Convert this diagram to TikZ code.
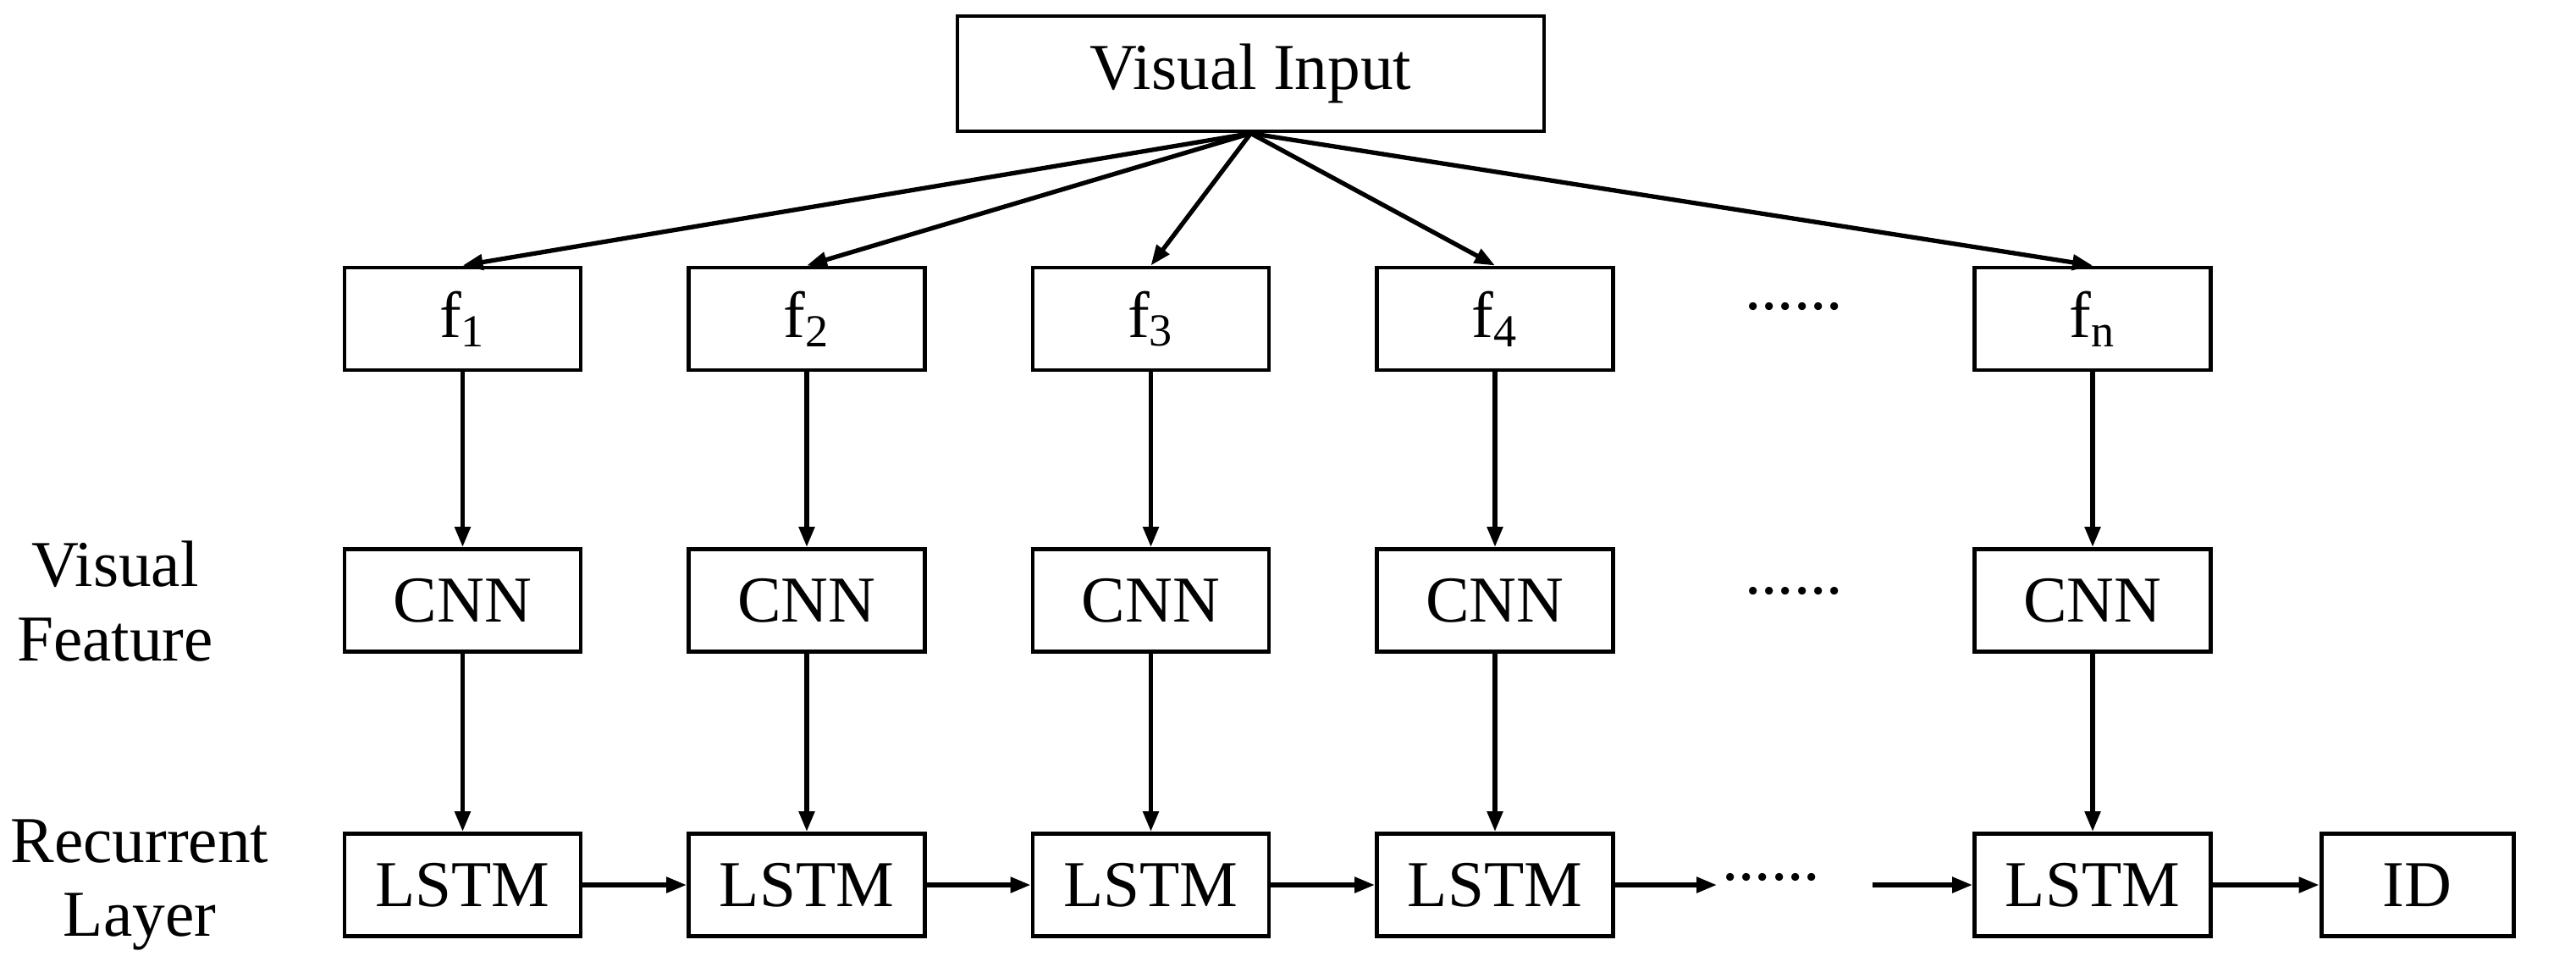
\documentclass[tikz,border=0pt]{standalone}
\usepackage{fontspec}
\setmainfont{Liberation Serif}
\usetikzlibrary{arrows.meta}
\begin{document}
\begin{tikzpicture}[x=1cm,y=-1cm,
  box/.style={draw,line width=1.4pt,minimum width=2.79cm,minimum height=1.21cm,inner sep=0pt,font=\fontsize{22}{26}\selectfont},
  lbl/.style={align=center,font=\fontsize{22}{25}\selectfont},
  arr/.style={line width=1.5pt,-{Triangle[length=0.24cm,width=0.18cm]}},
  dots/.style={font=\fontsize{22}{26}\selectfont}]
\useasboundingbox (0,0) rectangle (30.43,11.48);
\node[box,minimum width=6.93cm,minimum height=1.36cm] (vi) at (14.775,0.87) {Visual Input};
\foreach \i/\x/\t in {1/5.465/1,2/9.53/2,3/13.595/3,4/17.66/4,n/24.72/n}{
  \node[box] (f\i) at (\x,3.765) {f\textsubscript{\t}};
  \node[box] (c\i) at (\x,7.09) {CNN};
  \node[box] (l\i) at (\x,10.45) {LSTM};
  \draw[arr] (vi.south) -- (f\i.north);
  \draw[arr] (f\i) -- (c\i);
  \draw[arr] (c\i) -- (l\i);
}
\node[box,minimum width=2.27cm] (id) at (28.555,10.45) {ID};
\node[dots] (d1) at (21.19,3.62) {......};
\node[dots] (d2) at (21.19,6.98) {......};
\node[dots] (d3) at (20.92,10.36) {......};
\coordinate (a1) at (20.28,10.45);
\coordinate (a2) at (22.12,10.45);
\draw[arr] (l1) -- (l2);
\draw[arr] (l2) -- (l3);
\draw[arr] (l3) -- (l4);
\draw[line width=1.5pt,-{Triangle[length=0.24cm,width=0.18cm]}] (l4) -- (a1);
\draw[arr] (a2) -- (ln);
\draw[arr] (ln) -- (id);
\node[lbl] (vf) at (1.36,7.1) {Visual\\Feature};
\node[lbl] (rl) at (1.65,10.45) {Recurrent\\Layer};
\end{tikzpicture}
\end{document}
